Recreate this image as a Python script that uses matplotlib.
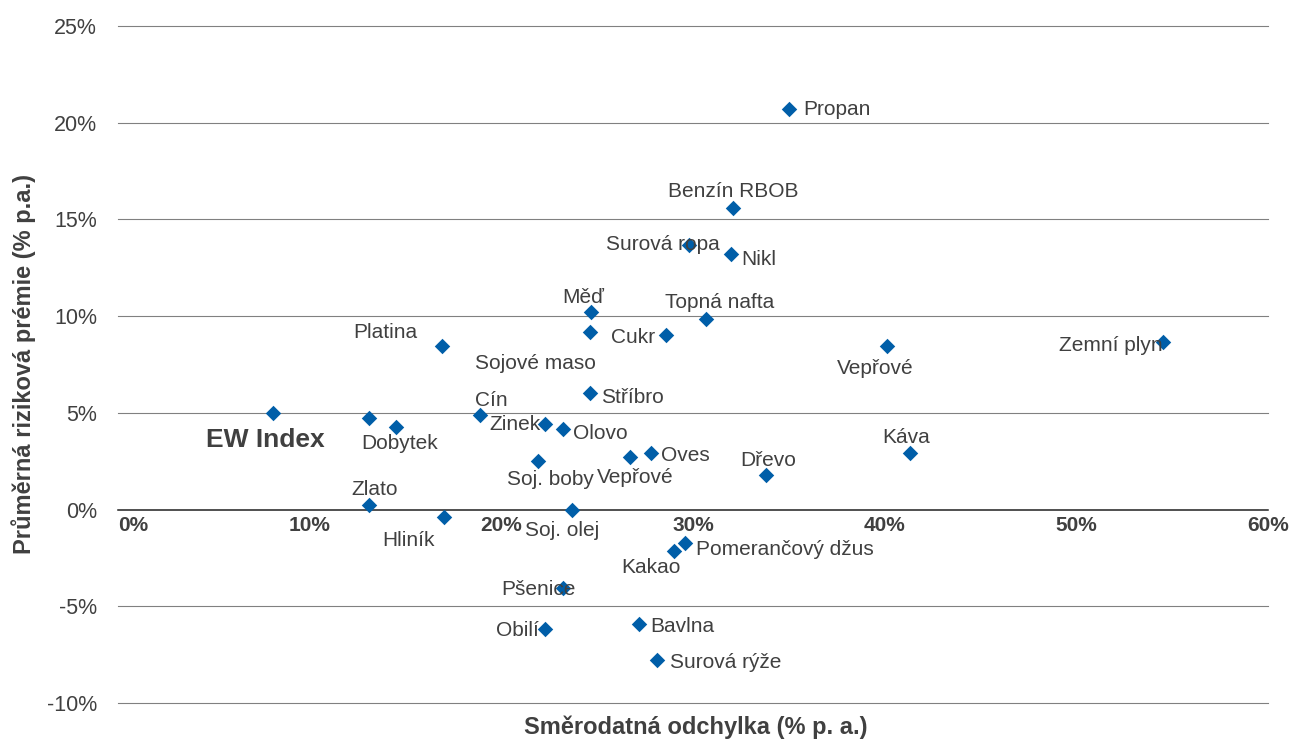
import matplotlib
matplotlib.use("Agg")
import matplotlib.pyplot as plt
from matplotlib.ticker import FuncFormatter

plt.rcParams['font.family'] = ['Liberation Sans', 'DejaVu Sans']

# data: volatility (% p.a.), average risk premium (% p.a.)
names = ["Propan", "Benzín RBOB", "Surová ropa", "Nikl", "Topná nafta", "Měď", "Cukr",
         "Sojové maso", "Stříbro", "Platina", "Cín", "Zinek", "Olovo", "Dobytek", "",
         "EW Index", "Zlato", "Hliník", "Soj. boby", "Soj. olej", "Vepřové", "Oves",
         "Dřevo", "Káva", "Vepřové", "Zemní plyn", "Pomerančový džus", "Kakao",
         "Pšenice", "Obilí", "Bavlna", "Surová rýže"]
stdev = [35.0, 32.1, 29.8, 32.0, 30.7, 24.7, 28.6,
         24.6, 24.6, 16.9, 18.9, 22.3, 23.2, 14.5, 13.1,
         8.1, 13.1, 17.0, 21.9, 23.7, 26.7, 27.8,
         33.8, 41.3, 40.1, 54.5, 29.6, 29.0,
         23.2, 22.3, 27.2, 28.1]
premium = [20.7, 15.6, 13.7, 13.2, 9.85, 10.2, 9.0,
           9.2, 6.0, 8.45, 4.9, 4.4, 4.15, 4.25, 4.75,
           5.0, 0.25, -0.4, 2.5, 0.0, 2.7, 2.9,
           1.8, 2.9, 8.45, 8.65, -1.75, -2.15,
           -4.05, -6.15, -5.9, -7.8]

# label offsets in pixels (dx, dy, ha)
offsets = [(14, 0, 'left'), (0, 16, 'center'), (-26, 0, 'center'), (10, -5, 'left'),
           (13, 16, 'center'), (-8, 15, 'center'), (-33, -2, 'center'),
           (-54, -32, 'center'), (11, -4, 'left'), (-57, 14, 'center'), (11, 14, 'center'),
           (-30, 0, 'center'), (10, -4, 'left'), (4, -16, 'center'), (0, 0, 'center'),
           (-8, -27, 'center'), (5, 15, 'center'), (-35, -23, 'center'), (13, -18, 'center'),
           (-10, -21, 'center'), (5, -20, 'center'), (10, -2, 'left'),
           (2, 14, 'center'), (-4, 16, 'center'), (-11, -22, 'center'), (-52, -3, 'center'),
           (11, -6, 'left'), (-23, -16, 'center'),
           (-24, -2, 'center'), (-28, -2, 'center'), (11, -3, 'left'), (13, -2, 'left')]

txt = '#404040'
fig = plt.figure(figsize=(12.9, 7.4), dpi=100)
ax = fig.add_axes([0.0915, 0.05, 0.8915, 0.915])

ax.scatter(stdev, premium, marker='D', s=62, color='#005EA8', zorder=3, linewidths=0)

for n, x, y, (dx, dy, ha) in zip(names, stdev, premium, offsets):
    if not n:
        continue
    bold = n == "EW Index"
    ax.annotate(n, (x, y), xytext=(dx, dy), textcoords='offset pixels',
                ha=ha, va='center', fontsize=19 if bold else 15,
                fontweight='bold' if bold else 'normal', color=txt, zorder=4)

ax.set_xlim(0, 60)
ax.set_ylim(-10, 25)
ax.set_yticks(range(-10, 26, 5))
ax.set_xticks(range(0, 61, 10))
ax.yaxis.set_major_formatter(FuncFormatter(lambda v, p: f"{v:.0f}%"))
ax.xaxis.set_major_formatter(FuncFormatter(lambda v, p: f"{v:.0f}%"))

for v in range(-10, 26, 5):
    if v != 0:
        ax.axhline(v, color='#808080', lw=0.8, zorder=1, clip_on=False)

for s in ['top', 'right', 'left']:
    ax.spines[s].set_visible(False)
ax.spines['bottom'].set_position(('data', 0))
ax.spines['bottom'].set_color('#202020')
ax.spines['bottom'].set_linewidth(1.1)

ax.tick_params(axis='y', length=0, pad=15, labelsize=15.5, labelcolor=txt)
ax.tick_params(axis='x', length=0, pad=5, labelsize=15, labelcolor=txt)
for lab in ax.get_xticklabels():
    lab.set_fontweight('bold')
ax.get_xticklabels()[0].set_horizontalalignment('left')

ax.set_ylabel("Průměrná riziková prémie (% p.a.)", fontsize=17, fontweight='bold',
              color=txt, labelpad=8)
fig.text(0.5395, 0.017, "Směrodatná odchylka (% p. a.)", fontsize=17, fontweight='bold',
         color=txt, ha='center', va='center')

fig.savefig("out.png", dpi=100)
